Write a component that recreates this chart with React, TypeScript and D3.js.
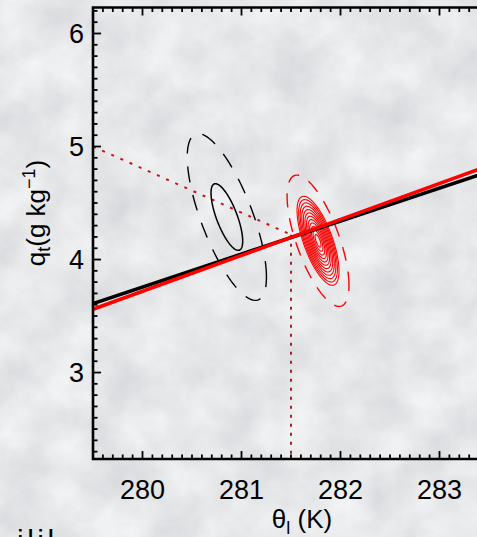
import React from "react";
import * as d3 from "d3";

const W = 477;
const H = 537;

// axis tick values
const xMajorTicks = [280, 281, 282, 283];
const yMajorTicks = [3, 4, 5, 6];
const xDomain = [279.5, 284.5];
const yDomain = [2.235, 6.23];

// regression lines (theta_l, q_t)
const blackLine = [
  { t: 279.5, q: 3.61 },
  { t: 284.5, q: 5.07 },
];
const redLine = [
  { t: 279.5, q: 3.56 },
  { t: 284.5, q: 5.15 },
];

// dotted guide (mixing) lines
const dottedSlant = [
  { t: 279.5, q: 5.0 },
  { t: 281.5, q: 4.22 },
];
const dottedVertical = [
  { t: 281.5, q: 4.22 },
  { t: 281.5, q: 2.235 },
];

// joint distributions: centre, std devs, correlation
const blackDist = { t: 280.852, q: 4.376, st: 0.16, sq: 0.295, rho: -0.72 };
const blackSolidLevels = [1.0];
const blackDashedLevels = [2.5];

const redDist = { t: 281.773, q: 4.166, st: 0.106, sq: 0.197, rho: -0.68 };
const redSolidLevels = [2.0, 1.85, 1.7, 1.55, 1.4, 1.25, 1.1, 0.95, 0.8, 0.64, 0.47, 0.28];
const redDashedLevels = [2.95];

const FONT = "'Liberation Sans', Arial, Helvetica, sans-serif";

export default function App() {
  const left = 93;
  const top = 7.5;
  const bottom = 459;
  const x = d3.scaleLinear().domain(xDomain).range([left, left + 5 * 99]);
  const y = d3.scaleLinear().domain(yDomain).range([bottom, top]);
  const right = x(xDomain[1]);

  const line = d3
    .line<{ t: number; q: number }>()
    .x((d) => x(d.t))
    .y((d) => y(d.q));

  const ellipse = (dist: typeof blackDist, k: number) => {
    const pts: [number, number][] = [];
    const n = 120;
    const s = Math.sqrt(1 - dist.rho * dist.rho);
    for (let i = 0; i < n; i++) {
      const a = (i / n) * Math.PI * 2;
      const t = dist.t + k * dist.st * Math.cos(a);
      const q = dist.q + k * dist.sq * (dist.rho * Math.cos(a) + s * Math.sin(a));
      pts.push([x(t), y(q)]);
    }
    return d3.line().curve(d3.curveLinearClosed)(pts) || "";
  };

  const xMinor = d3.range(279.6, 284.45, 0.1).map((v) => +v.toFixed(1));
  const yMinor = d3.range(2.3, 6.25, 0.1).map((v) => +v.toFixed(1));
  const isMajor = (v: number) => Math.abs(v - Math.round(v)) < 1e-6;

  return (
    <svg
      width={W}
      height={H}
      style={{ position: "absolute", left: 0, top: 0, display: "block" }}
      fontFamily={FONT}
    >
      <defs>
        <filter id="marble" x="0" y="0" width="100%" height="100%" colorInterpolationFilters="sRGB">
          <feTurbulence type="fractalNoise" baseFrequency="0.022" numOctaves={5} seed={11} />
          <feColorMatrix
            type="matrix"
            values="0.14 0 0 0 0.835  0.14 0 0 0 0.838  0.13 0 0 0 0.852  0 0 0 0 1"
          />
        </filter>
        <clipPath id="plotClip">
          <rect x={left} y={top} width={right - left} height={bottom - top} />
        </clipPath>
      </defs>
      <rect x={0} y={0} width={W} height={H} fill="#e8e8ea" />
      <rect x={0} y={0} width={W} height={H} filter="url(#marble)" />

      <g clipPath="url(#plotClip)">
        {/* dotted guides */}
        <path d={line(dottedSlant) || ""} fill="none" stroke="#c8141e" strokeWidth={2} strokeDasharray="3 7" />
        <path d={line(dottedVertical) || ""} fill="none" stroke="#a8222c" strokeWidth={2} strokeDasharray="3 6" />

        {/* black distribution */}
        {blackDashedLevels.map((k, i) => (
          <path key={"bd" + i} d={ellipse(blackDist, k)} fill="none" stroke="#000" strokeWidth={1.4} strokeDasharray="16 13" />
        ))}
        {blackSolidLevels.map((k, i) => (
          <path key={"bs" + i} d={ellipse(blackDist, k)} fill="none" stroke="#000" strokeWidth={1.5} />
        ))}

        {/* red distribution */}
        {redDashedLevels.map((k, i) => (
          <path key={"rd" + i} d={ellipse(redDist, k)} fill="none" stroke="#ff0000" strokeWidth={1.4} strokeDasharray="14 11" />
        ))}
        {redSolidLevels.map((k, i) => (
          <path key={"rs" + i} d={ellipse(redDist, k)} fill="none" stroke="#ff0000" strokeWidth={1.1} />
        ))}

        {/* regression lines */}
        <path d={line(blackLine) || ""} fill="none" stroke="#000" strokeWidth={3.6} />
        <path d={line(redLine) || ""} fill="none" stroke="#ff0000" strokeWidth={3.6} />
      </g>

      {/* ticks */}
      <g stroke="#000" strokeWidth={1.8}>
        {xMinor.map((v) => {
          const len = isMajor(v) ? 8 : 4.5;
          return (
            <g key={"xt" + v}>
              <line x1={x(v)} x2={x(v)} y1={bottom} y2={bottom - len} />
              <line x1={x(v)} x2={x(v)} y1={top} y2={top + len} />
            </g>
          );
        })}
        {yMinor.map((v) => {
          const len = isMajor(v) ? 8 : 4.5;
          return <line key={"yt" + v} x1={left} x2={left + len} y1={y(v)} y2={y(v)} />;
        })}
      </g>

      {/* frame */}
      <path
        d={`M${right},${top} H${left} V${bottom} H${right}`}
        fill="none"
        stroke="#000"
        strokeWidth={2.6}
      />

      {/* tick labels */}
      <g fontSize={27} fill="#000">
        {xMajorTicks.map((v) => (
          <text key={"xl" + v} x={x(v)} y={499} textAnchor="middle">
            {v}
          </text>
        ))}
        {yMajorTicks.map((v) => (
          <text key={"yl" + v} x={84} y={y(v) + 9.5} textAnchor="end">
            {v}
          </text>
        ))}
      </g>

      {/* axis titles */}
      <text x={302} y={528} fontSize={26} textAnchor="middle" fill="#000">
        θ<tspan fontSize={18} dy={6}>l</tspan>
        <tspan dy={-6}> (K)</tspan>
      </text>
      <text transform="translate(45,213) rotate(-90)" fontSize={26} textAnchor="middle" fill="#000">
        q<tspan fontSize={18} dy={5}>t</tspan>
        <tspan dy={-5}>(g kg</tspan>
        <tspan fontSize={18} dy={-10}>−1</tspan>
        <tspan dy={10}>)</tspan>
      </text>

      {/* cropped remnant of neighbouring text */}
      <text x={17} y={551} fontSize={30} letterSpacing={3.5} fill="#000">
        ilil
      </text>
    </svg>
  );
}
